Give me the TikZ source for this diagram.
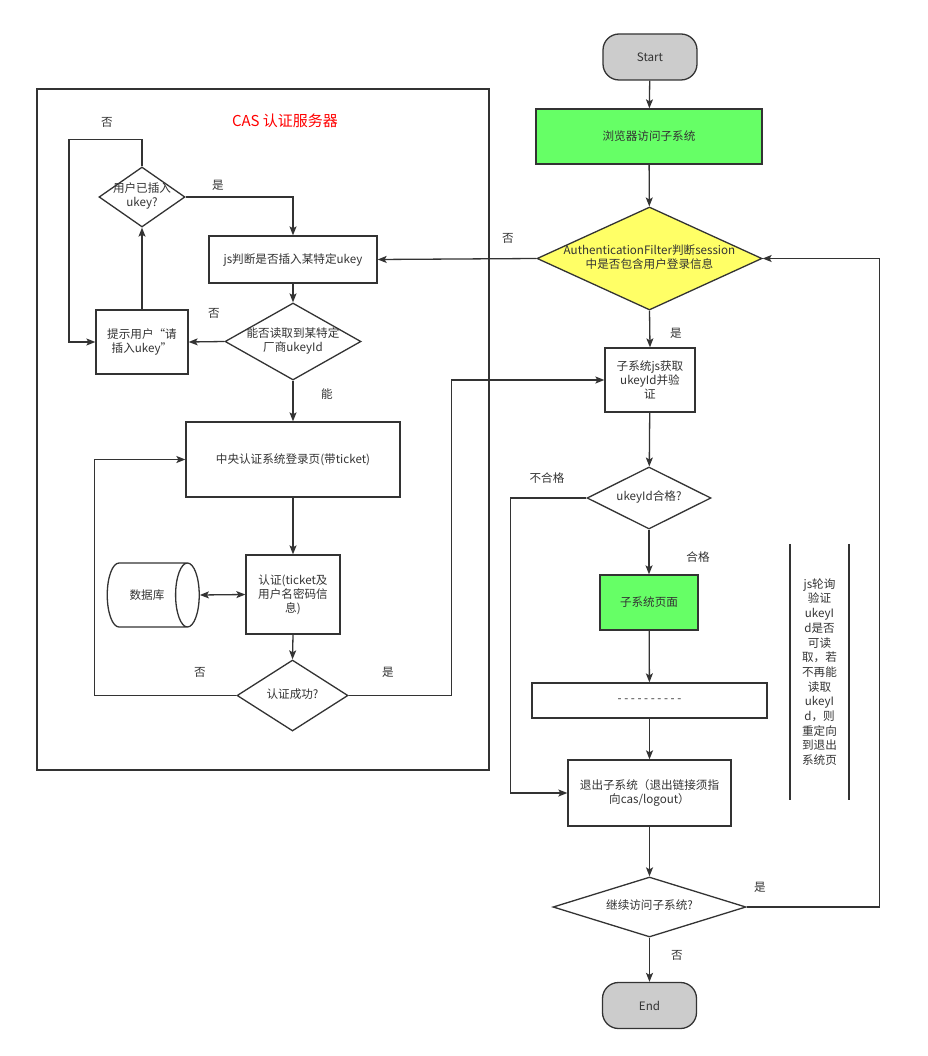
\documentclass[tikz,border=0pt]{standalone}
\usepackage{fontspec}
\setmainfont{Noto Sans CJK SC}
\usepackage{tikz}
\usetikzlibrary{arrows.meta, shapes.geometric}
\definecolor{LineGray}{HTML}{333333}
\definecolor{PageGreen}{HTML}{66FF66}
\definecolor{CheckYellow}{HTML}{FFFF66}
\definecolor{EndGray}{HTML}{CCCCCC}
\definecolor{CasRed}{HTML}{FF0000}
\newcommand{\dtext}[1]{\makebox[0pt]{\begin{tabular}{@{}c@{}}#1\end{tabular}}}

\begin{document}
\begin{tikzpicture}[
  x=1pt, y=-1pt,
  every node/.style={font=\fontsize{11.6}{14}\selectfont, text=LineGray},
  box/.style={draw=LineGray, line width=1.3pt, fill=#1, align=center, inner sep=1pt},
  box/.default=white,
  decision/.style={draw=LineGray, line width=1.3pt, diamond, fill=#1, inner sep=0pt},
  decision/.default=white,
  terminal/.style={draw=LineGray, line width=1.3pt, rounded corners=16pt, fill=EndGray,
    minimum width=94, minimum height=46},
  lbl/.style={inner sep=0pt},
  flow/.style={draw=LineGray, line width=1.3pt, ->},
  >={Stealth[length=9pt, width=7pt, inset=2pt]}
]
\useasboundingbox (0,0) rectangle (927,1056);

% CAS server frame
\node[draw=LineGray, line width=1.3pt, minimum width=452, minimum height=681, inner sep=0pt]
  (cas_box) at (263,429.5) {};
\node[text=CasRed, font=\fontsize{15}{18}\selectfont] (cas_title) at (285,121) {CAS 认证服务器};

% Main line
\node[terminal] (start) at (650,57) {Start};
\node[box=PageGreen, minimum width=226, minimum height=55] (browser) at (649,136.5) {浏览器访问子系统};
\node[decision=CheckYellow, minimum width=225, minimum height=103] (filter) at (649.5,258.5)
  {\dtext{AuthenticationFilter判断session\\中是否包含用户登录信息}};
\node[box, minimum width=90, minimum height=64] (sub_js) at (650,380) {子系统js获取\\ukeyId并验\\证};
\node[decision, minimum width=124, minimum height=62] (ukey_ok) at (649,498) {\dtext{ukeyId合格?}};
\node[box=PageGreen, minimum width=98, minimum height=55] (sub_page) at (649,602.5) {子系统页面};
\node[box, minimum width=235, minimum height=35] (dots) at (649.5,700.5) {- - - - - - - - - -};
\node[box, minimum width=163, minimum height=66] (logout) at (649.5,793)
  {退出子系统（退出链接须指\\向cas/logout）};
\node[decision, minimum width=193, minimum height=60] (cont) at (649.5,907) {\dtext{继续访问子系统?}};
\node[terminal] (end) at (649.5,1005.5) {End};

% Inside CAS
\node[box, minimum width=168, minimum height=47] (jsjudge) at (293,259.5) {js判断是否插入某特定ukey};
\node[decision, minimum width=86, minimum height=60] (has_ukey) at (142,197) {\dtext{用户已插入\\ukey?}};
\node[decision, minimum width=136, minimum height=77] (can_read) at (293,341.5)
  {\dtext{能否读取到某特定\\厂商ukeyId}};
\node[box, minimum width=92, minimum height=64] (prompt) at (142,342) {提示用户“请\\插入ukey”};
\node[box, minimum width=214, minimum height=75] (login_page) at (293,459.5) {中央认证系统登录页(带ticket)};
\node[box, minimum width=94, minimum height=79] (auth) at (293,594.5) {认证(ticket及\\用户名密码信\\息)};
\node[draw=LineGray, line width=1.3pt, cylinder, aspect=2.2, minimum width=64, minimum height=92,
  inner sep=0pt] (db) at (147,595) {数据库};
\node[decision, minimum width=111, minimum height=71] (auth_ok) at (292.5,695.5) {\dtext{认证成功?}};

% Note
\node[align=center, minimum width=59, minimum height=256, inner sep=0pt,
  font=\fontsize{11.6}{14.7}\selectfont] (note) at (819.5,672)
  {js轮询\\验证\\ukeyI\\d是否\\可读\\取，若\\不再能\\读取\\ukeyI\\d，则\\重定向\\到退出\\系统页};
\draw[LineGray, line width=1.6pt] (note.north west) -- (note.south west);
\draw[LineGray, line width=1.6pt] (note.north east) -- (note.south east);

% Main connectors
\draw[flow] (start) -- (browser);
\draw[flow] (browser) -- (filter);
\draw[flow] (filter.west) -- (jsjudge.east);
\draw[flow] (filter.south) -- (sub_js.north);
\draw[flow] (sub_js) -- (ukey_ok);
\draw[flow] (ukey_ok.south) -- (sub_page.north);
\draw[flow] (sub_page) -- (dots);
\draw[flow] (dots) -- (logout);
\draw[flow] (logout.south) -- (cont.north);
\draw[flow] (cont.south) -- (end.north);
\draw[flow] (cont.east) -- ++(133,0) |- (filter.east);
\draw[flow] (ukey_ok.west) -- ++(-76,0) |- (logout.west);

% CAS connectors
\draw[flow] (has_ukey.north) -- ++(0,-27) -- ++(-73,0) |- (prompt.west);
\draw[flow] (has_ukey.east) -| (jsjudge.north);
\draw[flow] (jsjudge) -- (can_read);
\draw[flow] (can_read.west) -- (prompt.east);
\draw[flow] (prompt.north) -- (has_ukey.south);
\draw[flow] (can_read.south) -- (login_page.north);
\draw[flow] (login_page) -- (auth);
\draw[flow, <->] (db.east) -- (auth.west);
\draw[flow] (auth.south) -- (auth_ok.north);
\draw[flow] (auth_ok.west) -- ++(-142,0) |- (login_page.west);
\draw[flow] (auth_ok.east) -- ++(103,0) |- (sub_js.west);

% Labels
\node[lbl] (l_no1) at (508,238) {否};
\node[lbl] (l_yes1) at (676,333) {是};
\node[lbl] (l_fail) at (547,478) {不合格};
\node[lbl] (l_pass) at (698,557) {合格};
\node[lbl] (l_yes2) at (760,887) {是};
\node[lbl] (l_no2) at (677,955) {否};
\node[lbl] (l_no3) at (107,122) {否};
\node[lbl] (l_yes3) at (218,185) {是};
\node[lbl] (l_no4) at (214,313) {否};
\node[lbl] (l_can) at (327,394) {能};
\node[lbl] (l_no5) at (200,672) {否};
\node[lbl] (l_yes4) at (388,672) {是};

\end{tikzpicture}
\end{document}
